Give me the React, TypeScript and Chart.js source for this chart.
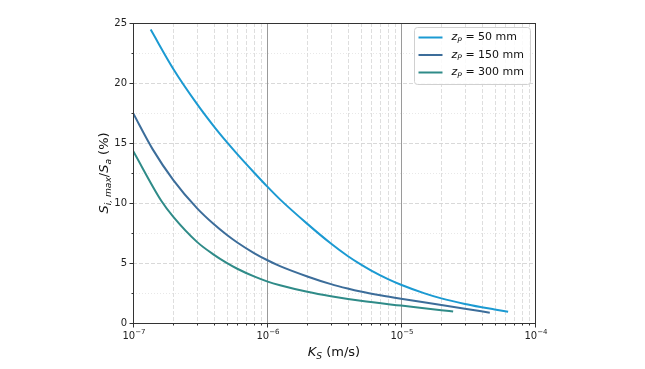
import React, { useEffect, useRef } from 'react';
import { Chart, registerables } from 'chart.js';

Chart.register(...registerables);

// ---- data ----
const K_50 = [1.355e-7, 2e-7, 3e-7, 4e-7, 5e-7, 6e-7, 8e-7, 1e-6, 1.25e-6, 2e-6, 3e-6, 4e-6, 5e-6, 6e-6, 8e-6, 1e-5, 1.5e-5, 2e-5, 3e-5, 4e-5, 5e-5, 6.3e-5];
const S_50 = [24.45, 21.17, 18.26, 16.41, 15.09, 14.07, 12.54, 11.39, 10.3, 8.26, 6.62, 5.58, 4.88, 4.37, 3.66, 3.19, 2.47, 2.05, 1.59, 1.32, 1.13, 0.94];

const K_150 = [1e-7, 1.4e-7, 2e-7, 3e-7, 4e-7, 5e-7, 6e-7, 8e-7, 1e-6, 1.25e-6, 2e-6, 3e-6, 4e-6, 5e-6, 7e-6, 1e-5, 2e-5, 3e-5, 4.6e-5];
const S_150 = [17.5, 14.49, 11.91, 9.57, 8.24, 7.35, 6.71, 5.83, 5.25, 4.74, 3.88, 3.24, 2.87, 2.62, 2.31, 2.02, 1.5, 1.19, 0.86];

const K_300 = [1e-7, 1.63e-7, 2e-7, 3e-7, 4e-7, 5e-7, 6e-7, 8e-7, 1e-6, 1.25e-6, 2e-6, 3e-6, 5e-6, 1e-5, 2e-5, 2.45e-5];
const S_300 = [14.35, 10.16, 8.84, 6.76, 5.7, 5.01, 4.52, 3.88, 3.47, 3.145, 2.6, 2.23, 1.85, 1.45, 1.07, 0.95];

const SERIES_LABELS = ['50 mm', '150 mm', '300 mm'];
const SERIES_COLORS = ['#1b9ad2', '#3c6d9a', '#2f8b88'];

const X_TICKS = [1e-7, 1e-6, 1e-5, 1e-4];
const X_TICK_EXP = ['\u22127', '\u22126', '\u22125', '\u22124'];
const Y_TICKS = [0, 5, 10, 15, 20, 25];
const Y_MINOR = [2.5, 7.5, 12.5, 17.5, 22.5];

const FONT = '"DejaVu Sans", sans-serif';

type Part = { t: string; i?: boolean; sub?: boolean; sup?: boolean };

function partFont(p: Part, size: number) {
  const s = p.sub || p.sup ? size * 0.7 : size;
  return `${p.i ? 'italic ' : ''}${s}px ${FONT}`;
}

function measureParts(ctx: CanvasRenderingContext2D, parts: Part[], size: number) {
  let w = 0;
  for (const p of parts) {
    ctx.font = partFont(p, size);
    w += ctx.measureText(p.t).width;
  }
  return w;
}

function drawParts(ctx: CanvasRenderingContext2D, parts: Part[], x: number, y: number, size: number, align: 'left' | 'center' | 'right') {
  const w = measureParts(ctx, parts, size);
  let cx = align === 'left' ? x : align === 'center' ? x - w / 2 : x - w;
  ctx.textAlign = 'left';
  ctx.textBaseline = 'middle';
  for (const p of parts) {
    ctx.font = partFont(p, size);
    const dy = p.sub ? size * 0.28 : p.sup ? -size * 0.4 : 0;
    ctx.fillText(p.t, cx, y + dy);
    cx += ctx.measureText(p.t).width;
  }
}

const decorPlugin = {
  id: 'decor',
  beforeDatasetsDraw(chart: any) {
    const { ctx, chartArea: a, scales } = chart;
    const xs = scales.x;
    const ys = scales.y;
    ctx.save();
    ctx.beginPath();
    ctx.rect(a.left, a.top, a.right - a.left, a.bottom - a.top);
    ctx.clip();
    ctx.lineWidth = 0.8;
    ctx.strokeStyle = '#e2e2e2';
    ctx.setLineDash([1, 2]);
    for (const v of Y_MINOR) {
      const y = Math.round(ys.getPixelForValue(v)) + 0.5;
      ctx.beginPath(); ctx.moveTo(a.left, y); ctx.lineTo(a.right, y); ctx.stroke();
    }
    ctx.strokeStyle = '#cfcfcf';
    ctx.setLineDash([4, 2]);
    for (const v of Y_TICKS) {
      const y = Math.round(ys.getPixelForValue(v)) + 0.5;
      ctx.beginPath(); ctx.moveTo(a.left, y); ctx.lineTo(a.right, y); ctx.stroke();
    }
    ctx.strokeStyle = '#d6d6d6';
    ctx.setLineDash([4, 2]);
    for (let d = 0; d < 3; d++) {
      for (let m = 2; m <= 9; m++) {
        const x = Math.round(xs.getPixelForValue(X_TICKS[d] * m)) + 0.5;
        ctx.beginPath(); ctx.moveTo(x, a.top); ctx.lineTo(x, a.bottom); ctx.stroke();
      }
    }
    ctx.setLineDash([]);
    ctx.strokeStyle = '#9a9a9a';
    ctx.lineWidth = 1;
    for (const v of X_TICKS) {
      const x = Math.round(xs.getPixelForValue(v)) + 0.5;
      ctx.beginPath(); ctx.moveTo(x, a.top); ctx.lineTo(x, a.bottom); ctx.stroke();
    }
    ctx.restore();
  },
  afterDraw(chart: any) {
    const { ctx, chartArea: a, scales } = chart;
    const xs = scales.x;
    const ys = scales.y;
    ctx.save();
    ctx.strokeStyle = '#333';
    ctx.lineWidth = 1;
    ctx.setLineDash([]);
    ctx.strokeRect(Math.round(a.left) + 0.5, Math.round(a.top) + 0.5, Math.round(a.right - a.left), Math.round(a.bottom - a.top));
    ctx.beginPath();
    const bottom = Math.round(a.bottom) + 0.5;
    const left = Math.round(a.left) + 0.5;
    for (const v of X_TICKS) {
      const x = Math.round(xs.getPixelForValue(v)) + 0.5;
      ctx.moveTo(x, bottom); ctx.lineTo(x, bottom + 4);
    }
    for (let d = 0; d < 3; d++) {
      for (let m = 2; m <= 9; m++) {
        const x = Math.round(xs.getPixelForValue(X_TICKS[d] * m)) + 0.5;
        ctx.moveTo(x, bottom); ctx.lineTo(x, bottom + 2);
      }
    }
    for (const v of Y_TICKS) {
      const y = Math.round(ys.getPixelForValue(v)) + 0.5;
      ctx.moveTo(left, y); ctx.lineTo(left - 4, y);
    }
    for (const v of Y_MINOR) {
      const y = Math.round(ys.getPixelForValue(v)) + 0.5;
      ctx.moveTo(left, y); ctx.lineTo(left - 2, y);
    }
    ctx.stroke();

    ctx.fillStyle = '#222';
    ctx.font = `10px ${FONT}`;
    ctx.textAlign = 'right';
    ctx.textBaseline = 'middle';
    for (const v of Y_TICKS) {
      ctx.fillText(String(v), a.left - 6, ys.getPixelForValue(v));
    }
    X_TICKS.forEach((v, i) => {
      drawParts(ctx, [{ t: '10' }, { t: X_TICK_EXP[i], sup: true }], xs.getPixelForValue(v) + 1, a.bottom + 13, 10, 'center');
    });

    ctx.fillStyle = '#111';
    drawParts(ctx, [{ t: 'K', i: true }, { t: 'S', i: true, sub: true }, { t: ' (m/s)' }], (a.left + a.right) / 2, a.bottom + 30, 13, 'center');
    ctx.save();
    ctx.translate(a.left - 28, (a.top + a.bottom) / 2);
    ctx.rotate(-Math.PI / 2);
    drawParts(ctx, [{ t: 'S', i: true }, { t: 'i, max', i: true, sub: true }, { t: '/' }, { t: 'S', i: true }, { t: 'a', i: true, sub: true }, { t: ' (%)' }], 0, 0, 13, 'center');
    ctx.restore();

    const bx = a.right - 120.5, by = a.top + 4.5, bw = 116, bh = 57;
    ctx.fillStyle = 'rgba(255,255,255,0.85)';
    ctx.strokeStyle = '#d0d0d0';
    ctx.lineWidth = 1;
    ctx.beginPath();
    (ctx as any).roundRect ? (ctx as any).roundRect(bx, by, bw, bh, 3) : ctx.rect(bx, by, bw, bh);
    ctx.fill();
    ctx.stroke();
    SERIES_LABELS.forEach((lab, i) => {
      const ly = by + 10 + i * 17.5;
      ctx.strokeStyle = SERIES_COLORS[i];
      ctx.lineWidth = 2;
      ctx.beginPath(); ctx.moveTo(bx + 4, ly); ctx.lineTo(bx + 28, ly); ctx.stroke();
      ctx.fillStyle = '#111';
      drawParts(ctx, [{ t: 'z', i: true }, { t: 'P', i: true, sub: true }, { t: ' = ' + lab }], bx + 37, ly, 11, 'left');
    });
    ctx.restore();
  },
};

export default function App() {
  const ref = useRef<HTMLCanvasElement | null>(null);
  useEffect(() => {
    if (!ref.current) return;
    const mk = (k: number[], s: number[]) => k.map((x, i) => ({ x, y: s[i] }));
    const datasets = [mk(K_50, S_50), mk(K_150, S_150), mk(K_300, S_300)].map((d, i) => ({
      label: SERIES_LABELS[i],
      data: d,
      borderColor: SERIES_COLORS[i],
      backgroundColor: SERIES_COLORS[i],
      borderWidth: 2,
      pointRadius: 0,
      cubicInterpolationMode: 'monotone' as const,
      fill: false,
    }));
    const chart = new Chart(ref.current, {
      type: 'line',
      data: { datasets },
      options: {
        responsive: false,
        animation: false,
        layout: { padding: { left: 0, top: 23, right: 110, bottom: 0 } },
        plugins: { legend: { display: false }, tooltip: { enabled: false } },
        scales: {
          x: {
            type: 'logarithmic',
            min: 1e-7,
            max: 1e-4,
            grid: { display: false },
            border: { display: false },
            ticks: { display: false },
            afterFit: (s: any) => { s.height = 46; },
          },
          y: {
            type: 'linear',
            min: 0,
            max: 25,
            grid: { display: false },
            border: { display: false },
            ticks: { display: false },
            afterFit: (s: any) => { s.width = 133; },
          },
        },
      },
      plugins: [decorPlugin],
    });
    return () => chart.destroy();
  }, []);
  return (
    <div style={{ position: 'fixed', left: 0, top: 0, width: 645, height: 369, background: '#fff' }}>
      <canvas ref={ref} width={645} height={369} style={{ width: 645, height: 369, display: 'block' }} />
    </div>
  );
}
